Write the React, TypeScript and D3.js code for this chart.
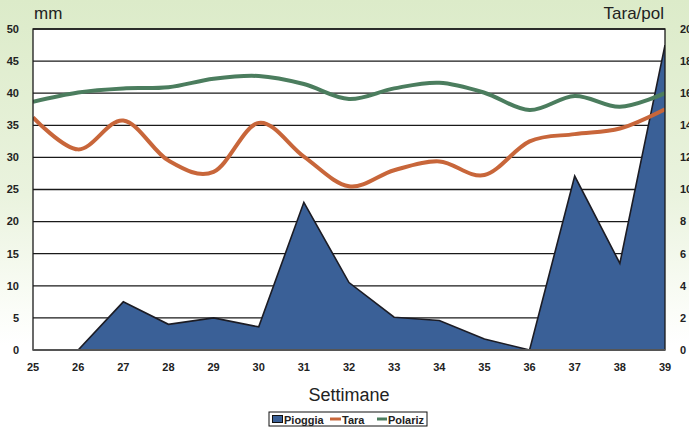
import React from "react";
import * as d3 from "d3";

const weeks = [25, 26, 27, 28, 29, 30, 31, 32, 33, 34, 35, 36, 37, 38, 39];
const pioggia = [0, 0, 7.5, 4, 5, 3.6, 23, 10.5, 5.1, 4.6, 1.7, 0, 27.1, 13.5, 47.5];
const tara = [14.5, 12.5, 14.3, 11.8, 11.1, 14.15, 12.05, 10.2, 11.2, 11.75, 10.9, 13.0, 13.45, 13.8, 15.0];
const polariz = [15.47, 16.05, 16.3, 16.37, 16.9, 17.07, 16.57, 15.64, 16.3, 16.65, 16.03, 14.95, 15.83, 15.16, 16.0];
const leftTicks = [0, 5, 10, 15, 20, 25, 30, 35, 40, 45, 50];
const rightTicks = [0, 2, 4, 6, 8, 10, 12, 14, 16, 18, 20];

const W = 689, H = 432;
const L = 33, R = 665, T = 29, B = 350;
const FONT = "'Liberation Sans', Arial, sans-serif";

export default function App() {
  const x = d3.scaleLinear().domain([25, 39]).range([L, R]);
  const yL = d3.scaleLinear().domain([0, 50]).range([B, T]);
  const yR = d3.scaleLinear().domain([0, 20]).range([B, T]);

  const area = d3.area<number>()
    .x((_, i) => x(weeks[i]))
    .y0(yL(0))
    .y1((d) => yL(d))(pioggia) || "";
  const topLine = d3.line<number>()
    .x((_, i) => x(weeks[i]))
    .y((d) => yL(d))(pioggia) || "";
  const smooth = d3.line<number>()
    .x((_, i) => x(weeks[i]))
    .y((d) => yR(d))
    .curve(d3.curveCardinal.tension(0));
  const taraPath = smooth(tara) || "";
  const polPath = smooth(polariz) || "";

  return (
    <svg width={W} height={H} style={{ position: "absolute", left: 0, top: 0 }} fontFamily={FONT}>
      <defs>
        <linearGradient id="bg" x1="0" y1="0" x2="0" y2="1">
          <stop offset="0" stopColor="#dcebc9" />
          <stop offset="0.45" stopColor="#eaf3de" />
          <stop offset="0.72" stopColor="#fbfdf8" />
          <stop offset="0.8" stopColor="#ffffff" />
        </linearGradient>
        <clipPath id="plot">
          <rect x={L} y={T} width={R - L} height={B - T} />
        </clipPath>
      </defs>
      <rect x={0} y={0} width={W} height={H} fill="url(#bg)" />
      <rect x={L} y={T} width={R - L} height={B - T} fill="#ffffff" />
      {leftTicks.map((t) => (
        <line key={"g" + t} x1={L} x2={R} y1={yL(t)} y2={yL(t)} stroke="#1a1a1a" strokeWidth={1.3} />
      ))}
      <g clipPath="url(#plot)">
        <path d={area} fill="#3a6097" />
        <path d={topLine} fill="none" stroke="#1c1c24" strokeWidth={1.6} strokeLinejoin="miter" />
        <path d={polPath} fill="none" stroke="#4b7d5e" strokeWidth={4} />
        <path d={taraPath} fill="none" stroke="#c8663a" strokeWidth={4} />
      </g>
      <rect x={L} y={T} width={R - L} height={B - T} fill="none" stroke="#1a1a1a" strokeWidth={1.3} />
      <line x1={L} x2={R} y1={B} y2={B} stroke="#555" strokeWidth={2} />
      {leftTicks.map((t) => (
        <text key={"l" + t} x={19} y={yL(t)} dy="0.35em" textAnchor="end" fontSize={11} fontWeight="bold" fill="#222">{t}</text>
      ))}
      {rightTicks.map((t) => (
        <text key={"r" + t} x={680} y={yR(t)} dy="0.35em" textAnchor="start" fontSize={11} fontWeight="bold" fill="#222">{t}</text>
      ))}
      {weeks.map((w) => (
        <text key={"x" + w} x={x(w)} y={367} dy="0.35em" textAnchor="middle" fontSize={11} fontWeight="bold" fill="#222">{w}</text>
      ))}
      <text x={34} y={19} fontSize={17} fill="#222">mm</text>
      <text x={664} y={19} fontSize={17} textAnchor="end" fill="#222">Tara/pol</text>
      <text x={349} y={401} fontSize={18} textAnchor="middle" fill="#222">Settimane</text>
      <g>
        <rect x={269} y={412} width={158} height={14} fill="#fff" stroke="#111" strokeWidth={1} />
        <rect x={272.5} y={415.5} width={10} height={7} fill="#3a6097" stroke="#111" strokeWidth={1} />
        <text x={284} y={423.5} fontSize={11} fontWeight="bold" fill="#222">Pioggia</text>
        <line x1={330} x2={341} y1={419} y2={419} stroke="#c8663a" strokeWidth={3} />
        <text x={342} y={423.5} fontSize={11} fontWeight="bold" fill="#222">Tara</text>
        <line x1={377} x2={387} y1={419} y2={419} stroke="#4b7d5e" strokeWidth={3} />
        <text x={388} y={423.5} fontSize={11} fontWeight="bold" fill="#222">Polariz</text>
      </g>
    </svg>
  );
}
